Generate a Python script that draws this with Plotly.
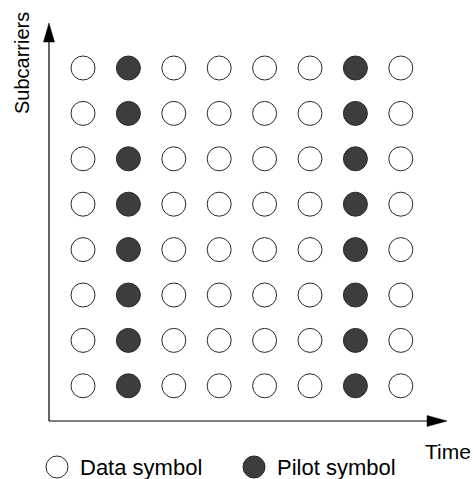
import plotly.graph_objects as go

# ---- data ----
time_slots = [1, 2, 3, 4, 5, 6, 7, 8]
subcarriers = [1, 2, 3, 4, 5, 6, 7, 8]
pilot_time_slots = [2, 7]
legend_labels = ["Data symbol", "Pilot symbol"]
axis_labels = {"x": "Time", "y": "Subcarriers"}

W, H = 473, 479
STEP = 45.4           # pixels per grid unit
COL1_PX, ROW8_PX = 83, 68

X0 = 1 - COL1_PX / STEP
X1 = X0 + W / STEP
Y1 = 8 + ROW8_PX / STEP
Y0 = Y1 - H / STEP

def px2x(px):
    return X0 + px / STEP

def py2y(py):
    return Y1 - py / STEP

FILL = "#3d3d3d"
EDGE = "#2a2a2a"
FONT = "Liberation Sans, Arial, sans-serif"

data_x, data_y, pil_x, pil_y = [], [], [], []
for t in time_slots:
    for s in subcarriers:
        if t in pilot_time_slots:
            pil_x.append(t); pil_y.append(s)
        else:
            data_x.append(t); data_y.append(s)

fig = go.Figure()
fig.add_trace(go.Scatter(x=data_x, y=data_y, mode="markers", name=legend_labels[0],
                         marker=dict(size=24, color="white", line=dict(color=EDGE, width=1)),
                         showlegend=False, hoverinfo="skip"))
fig.add_trace(go.Scatter(x=pil_x, y=pil_y, mode="markers", name=legend_labels[1],
                         marker=dict(size=24, color=FILL, line=dict(color=EDGE, width=1)),
                         showlegend=False, hoverinfo="skip"))

# manual legend markers
fig.add_trace(go.Scatter(x=[px2x(57)], y=[py2y(467)], mode="markers",
                         marker=dict(size=22, color="white", line=dict(color=EDGE, width=1)),
                         showlegend=False, hoverinfo="skip"))
fig.add_trace(go.Scatter(x=[px2x(254)], y=[py2y(467)], mode="markers",
                         marker=dict(size=22, color=FILL, line=dict(color=EDGE, width=1)),
                         showlegend=False, hoverinfo="skip"))

def P(px, py):
    return px / W, 1 - py / H

shapes = []
ox, oy = P(49, 421)
ex, _ = P(429, 421)
_, ey = P(49, 41)
shapes.append(dict(type="line", xref="paper", yref="paper", x0=ox, y0=oy, x1=ex, y1=oy,
                   line=dict(color="black", width=1.2)))
shapes.append(dict(type="line", xref="paper", yref="paper", x0=ox, y0=oy, x1=ox, y1=ey,
                   line=dict(color="black", width=1.2)))

def tri(pts):
    s = ""
    for i, (a, b) in enumerate(pts):
        xx, yy = P(a, b)
        s += ("M" if i == 0 else "L") + f"{xx:.5f},{yy:.5f} "
    return s + "Z"

shapes.append(dict(type="path", xref="paper", yref="paper",
                   path=tri([(427, 415.5), (447, 421), (427, 426.5)]),
                   fillcolor="black", line=dict(color="black", width=0.5)))
shapes.append(dict(type="path", xref="paper", yref="paper",
                   path=tri([(43.5, 42), (49, 23), (54.5, 42)]),
                   fillcolor="black", line=dict(color="black", width=0.5)))

annotations = []
ax_, ay_ = P(22, 63)
annotations.append(dict(text=axis_labels["y"], x=ax_, y=ay_, xref="paper", yref="paper",
                        textangle=-90, showarrow=False, font=dict(size=20, color="black", family=FONT),
                        xanchor="center", yanchor="middle"))
tx, ty = P(448, 451)
annotations.append(dict(text=axis_labels["x"], x=tx, y=ty, xref="paper", yref="paper",
                        showarrow=False, font=dict(size=21, color="black", family=FONT),
                        xanchor="center", yanchor="middle"))
lx1, ly = P(78, 467)
annotations.append(dict(text=legend_labels[0], x=lx1, y=ly, xref="paper", yref="paper",
                        showarrow=False, font=dict(size=22, color="black", family=FONT),
                        xanchor="left", yanchor="middle"))
lx2, _ = P(275, 467)
annotations.append(dict(text=legend_labels[1], x=lx2, y=ly, xref="paper", yref="paper",
                        showarrow=False, font=dict(size=22, color="black", family=FONT),
                        xanchor="left", yanchor="middle"))

fig.update_layout(
    width=W, height=H,
    margin=dict(l=0, r=0, t=0, b=0),
    paper_bgcolor="white", plot_bgcolor="white",
    xaxis=dict(range=[X0, X1], visible=False, fixedrange=True),
    yaxis=dict(range=[Y0, Y1], visible=False, fixedrange=True),
    shapes=shapes, annotations=annotations,
    showlegend=False,
)

fig.write_html("out.html", config={"displayModeBar": False},
               post_script="document.body.style.margin='0px';document.body.style.overflow='hidden';")
